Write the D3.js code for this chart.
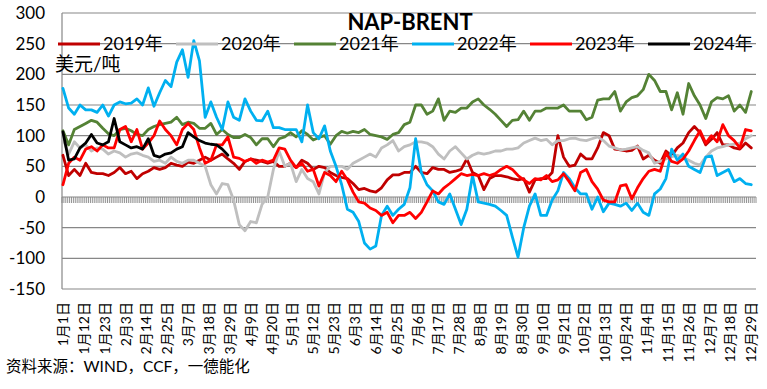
<!DOCTYPE html>
<html><head><meta charset="utf-8">
<script src="https://cdn.jsdelivr.net/npm/d3@7"></script>
<style>body{margin:0;background:#fff}svg text{font-family:"Lato","Noto Sans CJK SC",sans-serif;fill:#000}</style>
</head><body><svg id="c" width="767" height="389"></svg>
<script>
const title = "NAP-BRENT";
const unitLabel = "美元/吨";
const sourceText = "资料来源：WIND，CCF，一德能化";
const years = ["2019年","2020年","2021年","2022年","2023年","2024年"];
const colors = ["#C00000","#BFBFBF","#548235","#00B0F0","#FF0000","#000000"];
// values sampled every 3 days (day index 0,3,6,...)
const s2019 = [68,35,45,35,55,40,38,38,35,40,48,38,42,30,38,42,48,45,48,55,52,50,57,55,60,65,60,65,70,62,55,45,
  58,62,60,58,55,58,50,50,55,48,60,55,45,50,48,
  40,35,32,30,22,12,14,10,8,15,28,36,36,40,
  40,50,40,38,48,45,45,40,42,45,62,40,35,12,30,35,35,33,30,28,30,8,28,30,30,40,100,65,50,52,70,62,
  62,80,105,100,78,77,75,76,83,62,68,60,55,75,67,80,88,105,115,105,85,94,105,85,85,80,78,88,80];
const s2020 = [95,70,90,80,85,75,80,78,70,75,72,65,70,72,68,65,58,60,55,65,58,55,60,60,55,50,20,5,22,20,-5,
  -45,-55,-40,-42,-12,0,45,75,50,55,25,45,30,25,5,40,50,50,50,45,55,60,65,70,65,80,85,92,75,82,
  85,90,90,88,82,70,62,75,82,72,62,68,72,70,72,75,75,78,78,80,88,92,96,92,94,85,92,92,95,96,93,92,
  95,98,92,83,80,77,78,80,82,76,72,55,58,62,66,68,65,60,55,52,65,75,80,82,85,86,88,95,100];
const s2021 = [108,85,110,115,120,125,122,112,103,100,110,112,108,102,100,110,115,118,120,122,130,118,122,120,112,112,120,102,110,102,97,97,
  102,97,85,95,95,82,95,98,105,98,108,102,93,97,100,86,100,107,104,107,105,110,102,100,98,94,102,105,118,
  122,150,150,135,140,160,125,140,138,145,145,155,160,150,143,135,125,115,125,126,140,125,140,140,145,145,145,150,140,140,140,126,
  130,158,160,160,172,140,155,162,165,175,200,190,172,172,142,170,135,185,165,150,128,155,162,160,165,140,150,138,172];
const s2022 = [177,145,135,150,142,142,138,150,132,150,155,152,153,160,150,178,148,170,190,180,220,240,195,255,222,130,155,130,110,155,130,125,
  160,140,125,124,140,113,113,110,110,110,90,150,105,95,116,75,50,20,-20,-25,-40,-75,-85,-80,-30,-15,-30,-20,-12,
  15,95,40,20,10,-8,-12,5,-20,-45,-20,35,-8,-10,-12,-15,-22,-30,-65,-98,-50,-15,5,-30,-30,-5,10,40,30,15,5,5,
  -20,0,-24,-10,-12,-15,-10,-22,-10,-25,-30,5,13,30,78,60,70,50,45,40,65,67,35,40,45,25,30,22,20];
const s2023 = [20,55,65,60,78,82,75,85,80,80,110,115,90,110,78,88,100,124,110,100,85,110,120,110,80,55,60,85,85,98,65,63,
  58,62,55,60,57,60,80,78,60,48,55,42,45,18,40,35,25,42,28,8,-8,-10,-18,-22,-30,-25,-42,-30,-30,
  -25,-35,-25,-8,10,5,15,22,30,38,35,37,35,38,35,38,45,50,45,35,28,22,30,28,35,25,28,38,25,10,40,45,
  25,13,-5,-8,-8,18,20,-3,15,30,42,45,42,72,58,55,62,75,92,108,88,100,90,118,100,92,80,110,108];
const s2024 = [106,60,62,80,88,102,88,85,90,128,90,85,80,82,78,95,68,65,70,72,78,82,105,98,92,88,86,85,78,68];
const series = [s2019,s2020,s2021,s2022,s2023,s2024];
const tickLabels = ["1月1日","1月12日","1月23日","2月3日","2月14日","2月25日","3月7日","3月18日","3月29日","4月9日","4月20日","5月1日","5月12日","5月23日","6月3日","6月14日","6月25日","7月6日","7月17日","7月28日","8月8日","8月19日","8月30日","9月10日","9月21日","10月2日","10月13日","10月24日","11月4日","11月15日","11月26日","12月7日","12月18日","12月29日"];
const yTicks = [-150,-100,-50,0,50,100,150,200,250,300];
const nDays = 366, step = 3, tickEvery = 11;

const svg = d3.select("#c");
const L = 62, R = 756, T = 13, B = 289;
const x = d3.scaleBand().domain(d3.range(nDays)).range([L, R]);
const bw = x.bandwidth();
const y = d3.scaleLinear().domain([-150, 300]).range([B, T]);
const grid = "#878787";

// gridlines
svg.append("g").selectAll("line").data(yTicks.filter(v => v !== 0)).join("line")
  .attr("x1", L).attr("x2", R).attr("y1", d => y(d)).attr("y2", d => y(d))
  .attr("stroke", grid).attr("stroke-width", 1.2);
// left axis
svg.append("line").attr("x1", L).attr("x2", L).attr("y1", T).attr("y2", B).attr("stroke", grid).attr("stroke-width", 1.2);
// y labels
svg.append("g").selectAll("text").data(yTicks).join("text")
  .attr("x", 45).attr("y", d => y(d)).attr("dy", "0.36em").attr("text-anchor", "end")
  .style("font-size", "17px").text(d => d);

// zero axis with category ticks
const y0 = y(0);
svg.append("line").attr("x1", L).attr("x2", R).attr("y1", y0).attr("y2", y0).attr("stroke", grid).attr("stroke-width", 1.2);
svg.append("g").selectAll("line").data(d3.range(nDays + 1)).join("line")
  .attr("x1", d => L + d * bw).attr("x2", d => L + d * bw)
  .attr("y1", y0).attr("y2", y0 + 6).attr("stroke", grid).attr("stroke-width", 0.9);

// x labels
svg.append("g").selectAll("text").data(tickLabels).join("text")
  .attr("transform", (d, i) => `translate(${x(i * tickEvery) + bw / 2},302) rotate(-90)`)
  .attr("dy", "0.36em").attr("text-anchor", "end")
  .style("font-size", "14px").text(d => d);

// lines
const line = d3.line().x((v, j) => x(j * step) + bw / 2).y(v => y(v));
svg.append("g").selectAll("path").data(series).join("path")
  .attr("d", d => line(d)).attr("fill", "none")
  .attr("stroke", (d, i) => colors[i]).attr("stroke-width", 2.8)
  .attr("stroke-linejoin", "round").attr("stroke-linecap", "round");

// title
svg.append("text").attr("x", 410).attr("y", 30).attr("text-anchor", "middle")
  .style("font-size", "22px").style("font-weight", "bold").text(title);

// legend
const lg = svg.append("g").selectAll("g").data(years).join("g")
  .attr("transform", (d, i) => `translate(${58 + 118 * i},44)`);
lg.append("line").attr("x1", 0).attr("x2", 42).attr("y1", 0).attr("y2", 0)
  .attr("stroke", (d, i) => colors[i]).attr("stroke-width", 3);
lg.append("text").attr("x", 45).attr("y", 0).attr("dy", "0.36em").style("font-size", "18px").text(d => d);

svg.append("text").attr("x", 55).attr("y", 71).style("font-size", "19px").text(unitLabel);
svg.append("text").attr("x", 6).attr("y", 372).style("font-size", "15.5px").text(sourceText);
</script></body></html>
